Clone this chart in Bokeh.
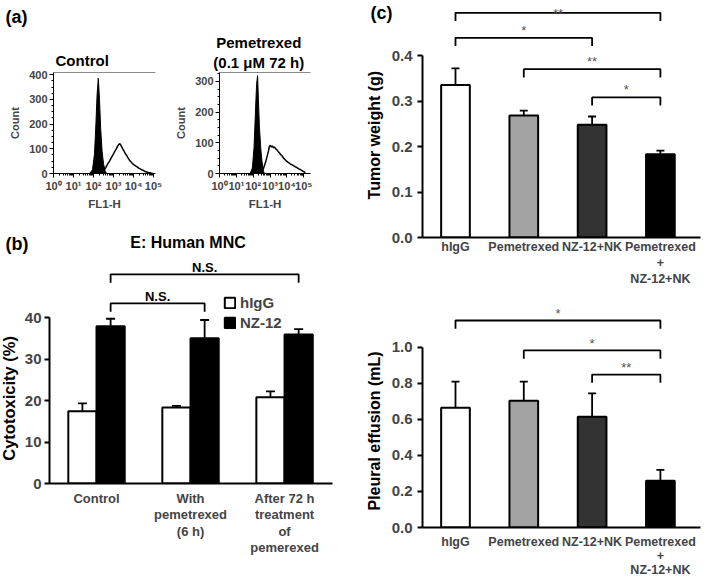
import numpy as np
from bokeh.plotting import figure
from bokeh.core.properties import value
from bokeh.models import (Range1d, LinearAxis, FixedTicker, Whisker, TeeHead,
                          ColumnDataSource, Legend, LegendItem, NumeralTickFormatter)
from bokeh.layouts import row, column
from bokeh.embed import file_html
from bokeh.resources import INLINE

FONT = "Liberation Sans"

# ---------------- (a) flow cytometry histograms (x = log10 FL1-H, y = count) ----------------
ctrl_fill_x = [1.80, 1.95, 2.05, 2.12, 2.18, 2.24, 2.30, 2.36, 2.43, 2.50, 2.58, 2.65]
ctrl_fill_y = [0, 15, 80, 200, 320, 386, 300, 180, 90, 40, 10, 0]
ctrl_open_x = [2.35, 2.50, 2.62, 2.72, 2.80, 2.88, 2.95, 3.02, 3.08, 3.14, 3.20, 3.25, 3.30, 3.35,
               3.40, 3.46, 3.52, 3.58, 3.65, 3.72, 3.80, 3.88, 3.95, 4.03, 4.10, 4.18, 4.26, 4.34,
               4.42, 4.50, 4.58, 4.66, 4.74, 4.82, 4.90, 5.00]
ctrl_open_y = [0, 10, 25, 40, 50, 62, 72, 82, 92, 100, 110, 116, 121, 117, 110, 100, 92, 82, 74,
               64, 54, 47, 40, 35, 31, 27, 22, 19, 15, 12, 8, 6, 4, 3, 1, 0]

pem_fill_x = [1.82, 1.95, 2.05, 2.14, 2.20, 2.26, 2.31, 2.37, 2.45, 2.52, 2.60, 2.66]
pem_fill_y = [0, 18, 85, 210, 290, 319, 240, 150, 81, 40, 10, 0]
pem_open_x = [2.45, 2.58, 2.68, 2.76, 2.84, 2.90, 2.96, 3.02, 3.08, 3.14, 3.20, 3.27, 3.34, 3.41,
              3.48, 3.56, 3.64, 3.72, 3.80, 3.88, 3.96, 4.05, 4.14, 4.23, 4.32, 4.41, 4.50, 4.60,
              4.70, 4.80, 4.90, 5.00, 5.10]
pem_open_y = [0, 12, 28, 42, 59, 72, 88, 92, 86, 90, 84, 86, 80, 77, 72, 67, 61, 57, 50, 46, 41,
              37, 34, 30, 28, 25, 22, 19, 15, 13, 9, 6, 2]

hist_xticks = [0, 1, 2, 3, 4, 5]
hist_xlabels = ["10⁰", "10¹", "10²", "10³", "10⁴", "10⁵"]

# ---------------- (b) cytotoxicity ----------------
b_x = [1, 2, 3]
b_groups = ["Control", "With\npemetrexed\n(6 h)", "After 72 h\ntreatment\nof\npemerexed"]
b_hIgG = [17.4, 18.3, 20.8]
b_hIgG_err = [1.9, 0.4, 1.4]
b_NZ = [37.9, 35.0, 35.9]
b_NZ_err = [1.8, 4.4, 1.3]
b_yticks = [0, 10, 20, 30, 40]
# brackets: (from group, to group, level, text)
b_brackets = [(0, 1, 43.4, "N.S."), (0, 2, 50.4, "N.S.")]

# ---------------- (c) in vivo ----------------
c_x = [1, 2, 3, 4]
c_groups = ["hIgG", "Pemetrexed", "NZ-12+NK", "Pemetrexed\n+\nNZ-12+NK"]
c_colors = ["white", "#a3a3a3", "#333333", "black"]
tumor = [0.335, 0.268, 0.248, 0.183]
tumor_err = [0.037, 0.011, 0.018, 0.008]
tumor_ticks = [0.0, 0.1, 0.2, 0.3, 0.4]
tumor_brackets = [(0, 3, 0.494, "**"), (0, 2, 0.439, "*"), (1, 3, 0.370, "**"), (2, 3, 0.308, "*")]
effusion = [0.665, 0.703, 0.615, 0.260]
effusion_err = [0.145, 0.107, 0.130, 0.060]
effusion_ticks = [0.0, 0.2, 0.4, 0.6, 0.8, 1.0]
effusion_brackets = [(0, 3, 1.149, "*"), (1, 3, 0.983, "*"), (2, 3, 0.849, "**")]


def base_fig(w, h, xr, yr, ml, mr, mt, mb):
    p = figure(width=w, height=h, x_range=Range1d(*xr), y_range=Range1d(*yr),
               output_backend="svg", toolbar_location=None, title=None,
               min_border_left=ml, min_border_right=mr, min_border_top=mt, min_border_bottom=mb)
    p.xgrid.visible = False
    p.ygrid.visible = False
    p.outline_line_color = None
    p.background_fill_color = "white"
    p.border_fill_color = "white"
    return p


def txt(p, x, y, text, size, style="bold", align="center", baseline="middle", angle=0.0,
        color="black"):
    p.text(x=[x], y=[y], text=[text], text_font=value(FONT), text_font_size=value(f"{size}px"),
           text_font_style=value(style), text_align=value(align),
           text_baseline=value(baseline), angle=angle, text_color=color, level="overlay")


def hist_fig(w, ml, mr, xmax, ymax, yticks, fx, fy, ox, oy):
    p = base_fig(w, 212, (0, xmax), (0, ymax), ml, mr, 72, 39)
    p.patch(fx, fy, fill_color="black", line_color="black", line_width=1)
    p.line(ox, oy, line_color="black", line_width=1.5)
    minor = [k + np.log10(m) for k in range(5) for m in range(2, 10)]
    xa = p.xaxis[0]
    xa.ticker = FixedTicker(ticks=hist_xticks, minor_ticks=minor)
    xa.major_label_overrides = dict(zip(hist_xticks, hist_xlabels))
    ya = p.yaxis[0]
    ya.ticker = FixedTicker(ticks=yticks, minor_ticks=list(range(0, int(ymax), 25)))
    for ax in (xa, ya):
        ax.axis_line_width = 1
        ax.major_tick_out = 4
        ax.major_tick_in = 0
        ax.minor_tick_out = 2
        ax.minor_tick_in = 0
        ax.major_label_standoff = 2
        ax.major_label_text_font = FONT
        ax.major_label_text_font_style = "bold"
        ax.major_label_text_font_size = "11px"
        ax.axis_label_text_font = FONT
        ax.axis_label_text_font_style = "bold"
    xa.axis_label = "FL1-H"
    xa.axis_label_text_font_size = "11.5px"
    xa.axis_label_standoff = 3
    ya.axis_label = "Count"
    ya.axis_label_text_font_size = "11px"
    ya.axis_label_standoff = 5
    top = LinearAxis(ticker=FixedTicker(ticks=[]), axis_line_color="#8a8a8a",
                     axis_line_width=1.2, major_tick_line_color=None,
                     minor_tick_line_color=None, major_label_text_font_size="0px")
    p.add_layout(top, "above")
    return p


# ---- (a) ----
a1 = hist_fig(172, 53, 17, 5.1, 409, [0, 100, 200, 300, 400],
              ctrl_fill_x, ctrl_fill_y, ctrl_open_x, ctrl_open_y)
txt(a1, -2.4, 632, "(a)", 18, align="left")
txt(a1, 0.1, 458, "Control", 15, align="left")

a2 = hist_fig(193, 36, 55, 5.4, 329, [0, 100, 200, 300],
              pem_fill_x, pem_fill_y, pem_open_x, pem_open_y)
txt(a2, 2.33, 427, "Pemetrexed", 15)
txt(a2, 2.33, 362, "(0.1 μM 72 h)", 15)

# ---- (b) ----
b = base_fig(365, 366, (0.5, 3.51), (0, 54.94), 49, 33, 43, 95)
bx_h = [v - 0.15 for v in b_x]
bx_n = [v + 0.15 for v in b_x]
r_h = b.vbar(x=bx_h, top=b_hIgG, width=0.30, fill_color="white", line_color="black", line_width=2)
r_n = b.vbar(x=bx_n, top=b_NZ, width=0.30, fill_color="black", line_color="black", line_width=2)
for xs, vals, errs in ((bx_h, b_hIgG, b_hIgG_err), (bx_n, b_NZ, b_NZ_err)):
    src = ColumnDataSource(dict(x=xs, lo=vals, hi=[v + e for v, e in zip(vals, errs)]))
    b.add_layout(Whisker(source=src, base="x", lower="lo", upper="hi", line_width=1.8,
                         upper_head=TeeHead(size=9, line_width=1.8), lower_head=None))
for i0, i1, lvl, t in b_brackets:
    x0, x1 = bx_n[i0], bx_n[i1]
    b.line([x0, x0, x1, x1], [lvl - 2.0, lvl, lvl, lvl - 2.0], line_color="black", line_width=1.8)
    txt(b, (x0 + x1) / 2, lvl + 1.6, t, 13, baseline="alphabetic")
ya = b.yaxis[0]
ya.ticker = FixedTicker(ticks=b_yticks)
ya.bounds = (0, 40)
xa = b.xaxis[0]
xa.ticker = FixedTicker(ticks=b_x)
xa.major_label_overrides = dict(zip(b_x, b_groups))
xa.major_tick_line_color = None
xa.minor_tick_line_color = None
xa.major_tick_out = 0
xa.major_tick_in = 0
xa.major_label_standoff = 7
xa.major_label_text_font_size = "13px"
xa.major_label_text_line_height = 1.1
ya.major_label_text_font_size = "15px"
ya.major_tick_out = 5
ya.major_tick_in = 0
ya.minor_tick_line_color = None
ya.major_label_standoff = 3
for ax in (xa, ya):
    ax.axis_line_width = 2
    ax.major_tick_line_width = 2
    ax.major_label_text_font = FONT
    ax.major_label_text_font_style = "bold"
leg = Legend(items=[LegendItem(label="hIgG", renderers=[r_h]), LegendItem(label="NZ-12", renderers=[r_n])],
             location=(174, 152), glyph_width=13, glyph_height=13, label_height=16,
             label_standoff=4, spacing=3, padding=0, margin=0, border_line_color=None,
             background_fill_alpha=0, label_text_font=FONT, label_text_font_size="15px",
             label_text_font_style="bold")
b.add_layout(leg)
txt(b, 0.032, 57.8, "(b)", 18, align="left")
txt(b, 1.973, 58.1, "E: Human MNC", 16)
txt(b, 0.07, 20.5, "Cytotoxicity (%)", 16.5, angle=np.pi / 2)


# ---- (c) ----
def c_fig(h, yr, mb, vals, errs, ticks, brackets, leg_len, star_off, top_clear, ylabel, ylab_y,
          standoff, line_h):
    p = base_fig(342, h, (0.517, 4.587), yr, 57, 7, 0, mb)
    src = ColumnDataSource(dict(x=c_x, top=vals, color=c_colors))
    p.vbar(x="x", top="top", width=0.42, fill_color="color", line_color="black",
           line_width=2, source=src)
    esrc = ColumnDataSource(dict(x=c_x, lo=vals, hi=[v + e for v, e in zip(vals, errs)]))
    p.add_layout(Whisker(source=esrc, base="x", lower="lo", upper="hi", line_width=1.8,
                         upper_head=TeeHead(size=8, line_width=1.8), lower_head=None))
    for i0, i1, lvl, t in brackets:
        x0, x1 = c_x[i0], c_x[i1]
        p.line([x0, x0, x1, x1], [lvl - leg_len, lvl, lvl, lvl - leg_len], line_color="black",
               line_width=1.8)
        ty = min(lvl + star_off, yr[1] - top_clear)
        txt(p, (x0 + x1) / 2, ty, t, 13, style="normal", baseline="alphabetic",
            color="#555555")
    ya = p.yaxis[0]
    ya.ticker = FixedTicker(ticks=ticks)
    ya.formatter = NumeralTickFormatter(format="0.0")
    ya.bounds = (0, ticks[-1])
    ya.major_tick_out = 5
    ya.major_tick_in = 0
    ya.minor_tick_line_color = None
    ya.major_label_standoff = 5
    ya.major_label_text_font_size = "15px"
    xa = p.xaxis[0]
    xa.ticker = FixedTicker(ticks=c_x)
    xa.major_label_overrides = dict(zip(c_x, c_groups))
    xa.major_tick_line_color = None
    xa.minor_tick_line_color = None
    xa.major_tick_out = 0
    xa.major_tick_in = 0
    xa.major_label_standoff = standoff
    xa.major_label_text_font_size = "12.5px"
    xa.major_label_text_line_height = line_h
    for ax in (xa, ya):
        ax.axis_line_width = 2
        ax.major_tick_line_width = 2
        ax.major_label_text_font = FONT
        ax.major_label_text_font_style = "bold"
    txt(p, -0.193, ylab_y, ylabel, 16, angle=np.pi / 2)
    return p


c1 = c_fig(300, (0, 0.521), 63, tumor, tumor_err, tumor_ticks, tumor_brackets, 0.018, 0.0165,
           0.0275, "Tumor weight (g)", 0.225, 2, 1.15)
txt(c1, -0.244, 0.493, "(c)", 18, align="left")
c2 = c_fig(279, (0, 1.26), 51, effusion, effusion_err, effusion_ticks, effusion_brackets, 0.046,
           0.041, 0.072, "Pleural effusion (mL)", 0.536, 7, 1.0)

layout = row(column(row(a1, a2), b), column(c1, c2))
open("out.html", "w").write(file_html(layout, INLINE))
